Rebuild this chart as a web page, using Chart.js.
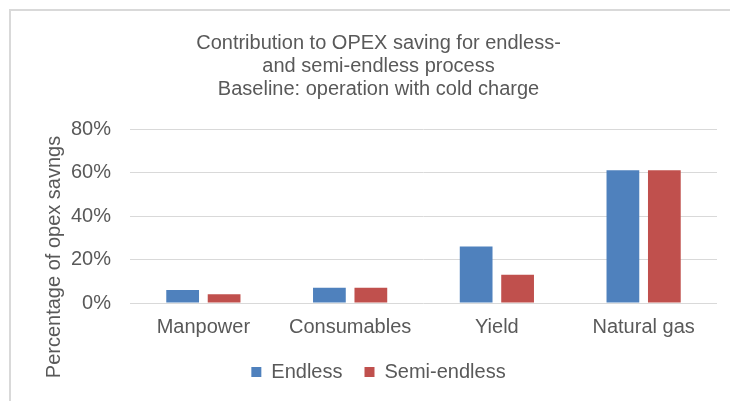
<!DOCTYPE html>
<html>
<head>
<meta charset="utf-8">
<script src="https://cdn.jsdelivr.net/npm/chart.js@4"></script>
<style>
  html, body { margin: 0; padding: 0; background: #fff; overflow: hidden; }
  #wrap { position: relative; width: 730px; height: 401px; overflow: hidden; }
  #frame {
    position: absolute; left: 9px; top: 9px; width: 760px; height: 420px;
    border-top: 2px solid #d9d9d9; border-left: 2px solid #d9d9d9;
  }
  canvas { position: absolute; left: 0; top: 0; }
</style>
</head>
<body>
<div id="wrap">
  <div id="frame"></div>
  <canvas id="opexChart" width="730" height="401"></canvas>
</div>
<script>
const categories = ["Manpower", "Consumables", "Yield", "Natural gas"];
const endless = [6, 7, 26, 61];
const semiEndless = [4, 7, 13, 61];
const titleLines = [
  "Contribution to OPEX saving for endless-",
  "and semi-endless process",
  "Baseline: operation with cold charge"
];
const yTitle = "Percentage of opex savngs";

document.addEventListener("DOMContentLoaded", () => {
  const ctx = document.getElementById("opexChart");
  const textColor = "#595959";
  const family = "'Liberation Sans', Arial, sans-serif";
  const font = { family: family, size: 20 };

  // y axis title sits lower than the plot centre, like the Excel original
  const yTitlePlugin = {
    id: "yTitle",
    afterDraw(chart) {
      const { ctx, chartArea } = chart;
      ctx.save();
      ctx.translate(chartArea.left - 76, (chartArea.top + chartArea.bottom) / 2 + 41);
      ctx.rotate(-Math.PI / 2);
      ctx.font = "20px " + family;
      ctx.fillStyle = textColor;
      ctx.textAlign = "center";
      ctx.textBaseline = "middle";
      ctx.fillText(yTitle, 0, 0);
      ctx.restore();
    }
  };

  new Chart(ctx, {
    type: "bar",
    data: {
      labels: categories,
      datasets: [
        { label: "Endless", data: endless, backgroundColor: "#4f81bd" },
        { label: "Semi-endless", data: semiEndless, backgroundColor: "#c0504d" }
      ]
    },
    options: {
      responsive: false,
      animation: false,
      devicePixelRatio: 1,
      categoryPercentage: 0.565,
      barPercentage: 0.79,
      // wide left padding so title and legend are centred like the original
      layout: { padding: { left: 40, right: 13, top: 0, bottom: 9 } },
      plugins: {
        title: {
          display: true,
          text: titleLines,
          color: textColor,
          font: { ...font, weight: "normal", lineHeight: 1.15 },
          padding: { top: 32, bottom: 28 }
        },
        legend: {
          position: "bottom",
          labels: {
            color: textColor,
            font: font,
            boxWidth: 10,
            boxHeight: 10,
            padding: 22
          }
        },
        tooltip: { enabled: false }
      },
      scales: {
        x: {
          grid: { display: false, drawTicks: false },
          border: { display: false },
          ticks: { color: textColor, font: font, padding: 12 },
          afterFit: (scale) => { scale.height = 37; }
        },
        y: {
          min: 0,
          max: 80,
          grid: { color: "#d9d9d9", drawTicks: false },
          border: { display: false },
          ticks: {
            stepSize: 20,
            color: textColor,
            font: font,
            padding: 19,
            callback: (v) => v + "%"
          },
          afterFit: (scale) => { scale.width = 90; }
        }
      }
    },
    plugins: [yTitlePlugin]
  });
});
</script>
</body>
</html>
